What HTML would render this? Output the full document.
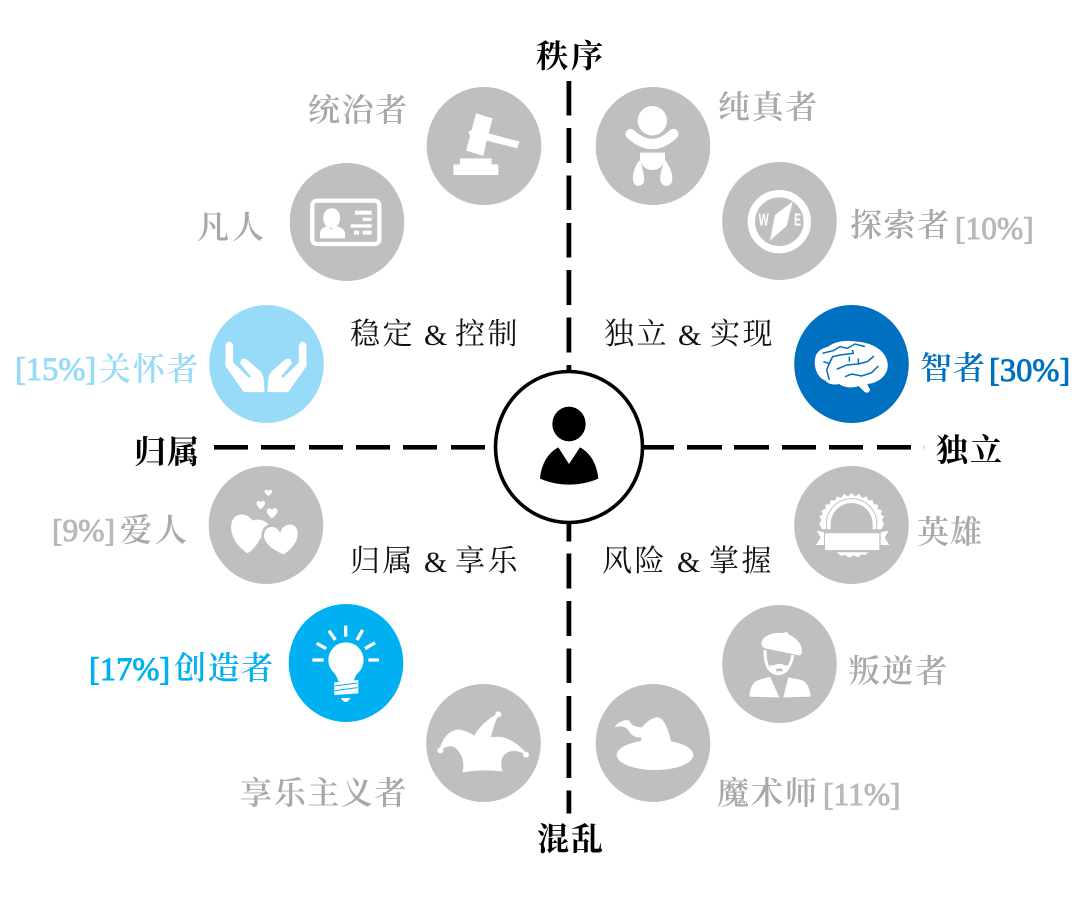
<!DOCTYPE html>
<html><head><meta charset="utf-8"><style>
html,body{margin:0;padding:0;background:#fff;width:1080px;height:912px;overflow:hidden}
svg{display:block}
text{font-family:"Liberation Serif","Noto Serif CJK SC",serif;font-size:32px;font-weight:600}
.g{fill:#a8a8a8}
.k{fill:#000;font-weight:700}
.q{fill:#111;font-size:30px;font-weight:400}
.n{font-size:32.5px;font-weight:400;stroke-width:.9px}
.ng{font-size:31.5px;fill:#b8b8b8;stroke:#b8b8b8}
</style></head><body>
<svg width="1080" height="912" viewBox="0 0 1080 912">
<rect width="1080" height="912" fill="#fff"/>
<!-- axes -->
<g fill="#000">
<rect x="214" y="445" width="34" height="4.6"/><rect x="261" y="445" width="34" height="4.6"/><rect x="309" y="445" width="34" height="4.6"/><rect x="356" y="445" width="34" height="4.6"/><rect x="403" y="445" width="34" height="4.6"/><rect x="451" y="445" width="34" height="4.6"/>
<rect x="644" y="445" width="30" height="4.6"/><rect x="687" y="445" width="35" height="4.6"/><rect x="734" y="445" width="35" height="4.6"/><rect x="782" y="445" width="34" height="4.6"/><rect x="829" y="445" width="34" height="4.6"/><rect x="877" y="445" width="34" height="4.6"/>
<rect x="566.5" y="81" width="4.8" height="34.5"/><rect x="566.5" y="128" width="4.8" height="35"/><rect x="566.5" y="175.5" width="4.8" height="34.5"/><rect x="566.5" y="223" width="4.8" height="34.5"/><rect x="566.5" y="270" width="4.8" height="35"/><rect x="566.5" y="317.5" width="4.8" height="35"/><rect x="566.5" y="365" width="4.8" height="7"/>
<rect x="566.5" y="522" width="4.8" height="19.5"/><rect x="566.5" y="553.5" width="4.8" height="35"/><rect x="566.5" y="601" width="4.8" height="35"/><rect x="566.5" y="648.5" width="4.8" height="34.5"/><rect x="566.5" y="696" width="4.8" height="35"/><rect x="566.5" y="743" width="4.8" height="35"/><rect x="566.5" y="790.5" width="4.8" height="23"/>
</g>
<rect x="923" y="445" width="1.5" height="4.6" fill="#ddd"/>
<!-- centre -->
<ellipse cx="569" cy="447" rx="73.5" ry="75.5" fill="#fff" stroke="#000" stroke-width="3.6"/>
<g transform="translate(480,360) scale(.3333)" fill="#000">
<ellipse cx="267" cy="192" rx="50" ry="52"/>
<path d="M180,356C184,310 205,278 235,262L267,312L300,262C330,278 351,310 355,356C300,380 235,380 180,356Z"/>
</g>
<!-- circles -->
<g fill="#bfbfbf">
<ellipse cx="484" cy="146" rx="57.3" ry="59"/>
<ellipse cx="347" cy="222" rx="57.3" ry="59"/>
<ellipse cx="653" cy="146" rx="57.3" ry="59"/>
<ellipse cx="779.5" cy="221" rx="57.3" ry="59"/>
<ellipse cx="266" cy="525" rx="57.3" ry="59"/>
<ellipse cx="851.5" cy="525" rx="57.3" ry="59"/>
<ellipse cx="483.5" cy="743" rx="57.3" ry="59"/>
<ellipse cx="653" cy="743" rx="57.3" ry="59"/>
<ellipse cx="779.5" cy="664" rx="57.3" ry="59"/>
</g>
<ellipse cx="266.5" cy="364" rx="57.3" ry="59" fill="#97dbf8"/>
<ellipse cx="851.5" cy="364" rx="57.3" ry="59" fill="#0070c0"/>
<ellipse cx="346" cy="663" rx="57.3" ry="59" fill="#00b0f0"/>
<!-- gavel + id card -->
<g transform="translate(290,80) scale(.3333)" fill="#fff">
<path d="M558,100L608,115L596,160L688,185L682,205L590,182L580,228L528,212L540,170L535,155L545,150Z"/>
<path d="M510,235H605V253H625V285H490V253H510Z"/>
<rect x="67" y="362" width="201" height="130" rx="14" fill="none" stroke="#fff" stroke-width="13"/>
<path d="M125,385C147,385 152,405 150,420C148,436 136,444 125,444C114,444 102,436 100,420C98,403 106,385 125,385Z"/>
<path d="M90,475V458Q92,444 112,438L124,448L138,438Q162,444 165,458V475Z"/>
<rect x="195" y="392" width="50" height="12"/><rect x="218" y="413" width="27" height="10"/><rect x="182" y="433" width="63" height="10"/><rect x="192" y="452" width="15" height="12"/><rect x="218" y="452" width="27" height="12"/>
</g>
<!-- baby + compass -->
<g transform="translate(590,80) scale(.3333)" fill="#fff">
<circle cx="187" cy="122" r="44"/>
<path d="M122,162Q187,222 250,162" fill="none" stroke="#fff" stroke-width="31" stroke-linecap="round"/>
<path d="M150,218H225V240Q215,270 187,270Q160,270 150,240Z"/>
<path d="M150,240C158,265 165,295 162,305C155,322 135,322 130,305C125,285 135,255 150,240Z"/>
<path d="M225,240C240,258 250,285 246,305C240,322 218,322 212,305C208,290 215,262 225,240Z"/>
<circle cx="568" cy="425" r="84" fill="none" stroke="#fff" stroke-width="22"/>
<path d="M608,365L590,438L540,482L555,405Z"/>
<text transform="translate(506,437) scale(.62,1)" style="font-family:'Liberation Sans',sans-serif;font-size:52px;font-weight:700" fill="#fff">W</text>
<text transform="translate(612,437) scale(.62,1)" style="font-family:'Liberation Sans',sans-serif;font-size:52px;font-weight:700" fill="#fff">E</text>
</g>
<!-- hands + hearts -->
<g transform="translate(200,300) scale(.3333)" fill="#fff">
<path stroke="#fff" stroke-width="3" d="M78,135Q88,118 98,135L98,188L146,235L155,230L122,190Q125,172 140,180L180,215Q190,228 190,245L192,275L132,275L78,198Z"/>
<path stroke="#fff" stroke-width="3" transform="translate(396,0) scale(-1,1)" d="M78,135Q88,118 98,135L98,188L146,235L155,230L122,190Q125,172 140,180L180,215Q190,228 190,245L192,275L132,275L78,198Z"/>
<path d="M142,760C105,735 88,700 95,668C102,638 140,635 158,662C175,655 192,660 205,672C190,700 170,745 142,760Z"/>
<path d="M252,768C210,752 180,725 190,695C198,672 228,672 240,690C250,662 298,660 297,703C296,735 270,755 252,768Z" stroke="#bfbfbf" stroke-width="8"/>
<path d="M205,588C196,582 192,576 194,572C197,568 203,569 205,573C207,569 213,568 216,572C218,576 214,582 205,588Z"/>
<path d="M182,628C172,620 168,612 170,606C174,601 180,602 182,607C185,602 192,601 195,606C197,612 192,620 182,628Z"/>
<path d="M216,655C204,646 198,636 201,629C205,623 213,624 216,630C220,624 228,623 232,629C235,636 228,646 216,655Z"/>
</g>
<!-- brain + badge -->
<g transform="translate(790,300) scale(.3333)">
<path fill="#fff" d="M106,242C80,232 70,198 76,172C82,150 100,144 115,140C135,123 170,120 200,125C245,128 288,150 293,190C297,228 262,250 232,252L240,270Q235,284 222,274L206,258C185,266 160,262 148,252C130,256 115,252 106,242Z"/>
<g fill="none" stroke="#0070c0" stroke-width="4.5">
<path d="M97,160L130,152L150,140L172,145L195,132L225,140"/>
<path d="M100,185L118,190L128,170L150,165L190,160L187,150"/>
<path d="M128,170L118,190L110,210L118,240"/>
<path d="M140,208L170,195L205,192L232,185L252,168"/>
<path d="M165,230L185,222L215,228L245,218L265,198"/>
<path d="M178,170L178,185M205,175L205,192"/>
</g>
<path fill="#fff" d="M185,579L196,590L208,581L216,594L230,589L235,602L248,600L251,613L264,614L263,627L276,631L272,643L282,650L276,660L282,672L274,688H96L88,672L94,660L88,650L98,643L94,631L107,627L106,614L119,613L122,600L135,602L140,589L154,594L162,581L174,590Z"/>
<circle cx="185" cy="672" r="76" fill="none" stroke="#bfbfbf" stroke-width="3"/>
<path d="M122,690V672A63,63 0 0 1 248,672V690Z" fill="#bfbfbf"/>
<path fill="#fff" d="M105,700H268V750H105Z"/>
<path fill="#fff" d="M80,692L102,697V735H78L92,713Z"/>
<path fill="#fff" d="M296,692L272,697V735H298L284,713Z"/>
<path fill="#fff" d="M140,757H235L226,765L215,763L205,772L190,766L178,773L165,765L152,767Z"/>
</g>
<!-- bulb + jester -->
<g transform="translate(285,600) scale(.3333)" fill="#fff">
<circle cx="183" cy="180" r="53"/>
<path d="M145,215H221Q208,232 206,245H160Q158,232 145,215Z"/>
<path d="M148,247L220,240V280L148,285Z"/>
<path d="M150,258L218,249M150,272L218,263" stroke="#00b0f0" stroke-width="3"/>
<path d="M168,294H196Q190,306 182,306Q174,306 168,294Z"/>
<g stroke="#fff" stroke-width="10" fill="none">
<path d="M82,180H116M95,130L124,146M132,92L151,120M182,77V110M233,90L216,120M270,128L240,146M250,180H282"/>
</g>
<path stroke="#fff" stroke-width="4" d="M535,515Q545,470 510,440Q490,430 465,450Q480,395 520,390Q550,395 568,410Q590,370 640,342Q625,370 615,415Q670,400 725,463Q685,440 660,460Q640,475 650,512Q590,505 535,515Z"/>
<circle cx="466" cy="451" r="9"/><circle cx="640" cy="343" r="9"/><circle cx="723" cy="464" r="9"/>
</g>
<!-- wizard hat -->
<g transform="translate(590,640) scale(.3333)" fill="#fff">
<ellipse cx="195" cy="345" rx="115" ry="45"/>
<path d="M72,262Q95,235 118,242Q125,262 155,262C170,245 190,230 205,232C225,238 235,270 245,310H150L155,292Q130,295 118,275Q105,252 72,262Z"/>
</g>
<!-- rebel -->
<g transform="translate(720,600) scale(.3333)" fill="#fff">
<path d="M125,125C130,105 165,95 195,100C225,108 245,130 246,150C247,165 240,168 232,165L135,145C125,140 122,132 125,125Z"/>
<circle cx="198" cy="103" r="7"/>
<path d="M135,150Q135,195 150,210Q175,232 200,210Q215,190 218,165" fill="none" stroke="#fff" stroke-width="9"/>
<path d="M150,195C160,200 170,190 178,192C186,190 196,200 206,195L200,214Q175,232 150,210Z"/>
<path d="M168,208Q178,202 188,208V214H168Z" fill="#bfbfbf"/>
<path d="M88,290Q90,250 115,240L150,230L178,292Z"/>
<path d="M190,292L205,232L245,240Q268,250 272,290Z"/>
</g>
<!-- grey labels -->
<text class="g" x="308" y="121" style="letter-spacing:1.6px">统治者</text>
<text class="g" x="197" y="238" style="letter-spacing:3px">凡人</text>
<text class="g" x="718" y="118" style="letter-spacing:1.6px">纯真者</text>
<text class="g" x="850" y="236" style="letter-spacing:1.6px">探索者</text><text class="n ng" x="955" y="239">[10%]</text>
<text class="n ng" x="52" y="541">[9%]</text><text class="g" x="120" y="541" style="letter-spacing:3px">爱人</text>
<text class="g" x="917" y="543" style="letter-spacing:1px">英雄</text>
<text class="g" x="848" y="682" style="letter-spacing:1.6px">叛逆者</text>
<text class="g" x="240" y="804" style="letter-spacing:1.6px">享乐主义者</text>
<text class="g" x="717" y="804" style="letter-spacing:2px">魔术师</text><text class="n ng" x="823" y="805">[11%]</text>
<!-- coloured labels -->
<text class="n" x="15" y="380" fill="#97dbf8" stroke="#97dbf8">[15%]</text><text x="99" y="380" fill="#97dbf8" style="letter-spacing:1.6px">关怀者</text>
<text x="920" y="379" fill="#0070c0" style="letter-spacing:1px">智者</text><text class="n" x="989" y="381" fill="#0070c0" stroke="#0070c0">[30%]</text>
<text class="n" x="89" y="680" fill="#00b0f0" stroke="#00b0f0">[17%]</text><text x="174" y="679" fill="#00b0f0" style="letter-spacing:1.6px">创造者</text>
<!-- axis labels -->
<text class="k" x="536" y="67" style="letter-spacing:3px">秩序</text>
<text class="k" x="134" y="463" style="letter-spacing:1px">归属</text>
<text class="k" x="936" y="461" style="letter-spacing:2px">独立</text>
<text class="k" x="537" y="850" style="letter-spacing:2px">混乱</text>
<!-- quadrant labels -->
<text class="q" x="350" y="344" style="letter-spacing:2.5px">稳定</text><text class="q" x="424" y="345">&amp;</text><text class="q" x="455" y="344" style="letter-spacing:2.5px">控制</text>
<text class="q" x="604" y="344" style="letter-spacing:2.5px">独立</text><text class="q" x="678" y="345">&amp;</text><text class="q" x="710" y="344" style="letter-spacing:2.5px">实现</text>
<text class="q" x="350" y="571" style="letter-spacing:2.5px">归属</text><text class="q" x="424" y="572">&amp;</text><text class="q" x="455" y="571" style="letter-spacing:2.5px">享乐</text>
<text class="q" x="602" y="571" style="letter-spacing:2.5px">风险</text><text class="q" x="677" y="572">&amp;</text><text class="q" x="709" y="571" style="letter-spacing:2.5px">掌握</text>
</svg>
</body></html>
